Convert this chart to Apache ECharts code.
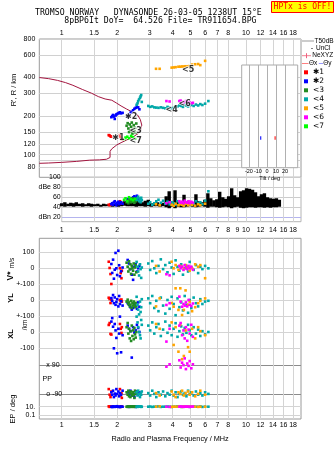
<!DOCTYPE html>
<html>
<head>
<meta charset="utf-8">
<script src="https://cdn.jsdelivr.net/npm/echarts@6/dist/echarts.min.js"></script>
<style>
html,body{margin:0;padding:0;background:#fff;}
#c{width:335px;height:451px;}
</style>
</head>
<body>
<div id="c"></div>
<script>
// ---- frequency axis ticks (MHz) ----
const freqTicks = [1, 1.5, 2, 3, 4, 5, 6, 7, 8, 10, 12, 14, 16, 18];
const freqTicksMid = [1, 1.5, 2, 3, 4, 5, 6, 7, 8, 9, 10, 12, 14, 16, 18];
const rangeTicks = [80, 90, 100, 120, 150, 200, 300, 400, 600, 800];
const dbTicks = [20, 40, 60, 80, 100];
const tiltTicks = [-20, -10, 0, 10, 20];

// ---- true-height profile (plasma frequency MHz, height km) ----
const profileFreq = [0.756,0.85,0.95,1.05,1.15,1.3,1.45,1.58,1.72,1.87,1.99,2.1,2.25,2.42,2.58,2.67,2.72,2.68,2.6,2.45,2.25,2.1,1.99,1.87,1.83,1.83,1.75,1.6,1.42,1.2,1.0,0.85,0.756];
const profileHeight = [400,392,380,365,348,322,302,284,272,266,252,240,227,215,204,188,170,156,146,138,130,124,119,111,106,95,92,91,90.5,88.5,87,86,85.5];

// ---- echo clusters: [f MHz, R' km, V* m/s, YL km, XL km, PP deg, EP deg, amplitude dB] ----
const echoes1 = [
  [1.80,142, 41, 14, 44, -60,12,45],
  [1.82,141,  2,  6, 56, -95, 9,44],
  [1.84,139,-36,-19,-12,-110,10,46],
  [1.86,138,-98,  0,-16, -75,11,45],
  [2.07,142,  0,  0, 50, -60,10,52],
  [2.09,137,-30, -5, 20,-100, 9,50],
  [2.11,134,-62,  3, -6, -85,12,48],
  [2.12,132,-15,-10, 30,-115,10,47]
];
const echoes2 = [
  [1.86,196, 27, 12, 65, -80,10,46],
  [1.88,200,-29, -5, 87, -95, 8,48],
  [1.90,204, 54, 31, 33, -70,12,45],
  [1.92,198,-65,-20,-102,-110,10,50],
  [1.94,190, -9, 16, 50, -88, 9,52],
  [1.96,202, 96,-30, 10,-100,11,47],
  [1.98,206,  0,-12,-37, -60,10,44],
  [2.00,208,-42,  5,-133,-90,13,49],
  [2.03,210,110,-40, 20, -75, 9,51],
  [2.05,212, 19, 25,-10,-105,10,46],
  [2.07,214,-50,-25, 96, -85, 8,48],
  [2.10,210,-19, -8,-127,-95,11,50],
  [2.14,212,  5,-35,-20, -70,10,47],
  [2.28,198, 52,-19, 40, -80,10,56],
  [2.32,206, 30,-30, 20, -95, 9,58],
  [2.36,212, -5,-45,  5, -70,11,55],
  [2.40,216,-40,-60,-160,-100,10,57],
  [2.44,222,-72,-50, 30, -85,12,60],
  [2.48,228, 10,-25, -3,-110,10,62],
  [2.52,232, 25,-38, 10, -90, 9,59],
  [2.56,236,-20,-55, 45, -75,10,63],
  [2.60,234,  0,-15, 25, -95,11,58],
  [2.64,226, 15,-42,  0, -80,10,56]
];
const echoes3 = [
  [2.25,168, 35,-10, 30, -80,10,50],
  [2.28,176, 10,  2, 56, -95, 9,53],
  [2.30,160,-20,-25,-10, -70,11,48],
  [2.32,150, 44,-15, 20,-105,10,55],
  [2.34,172, -5,-40,-40, -85,12,52],
  [2.36,155, 25,-30,  5,-110, 9,57],
  [2.38,165,-35, -5,-56, -75,10,50],
  [2.40,178, 15,-50, 40, -90,10,54],
  [2.42,146,  0,-20,-25,-100,11,58],
  [2.44,158,-15,-35, 10, -80, 9,51],
  [2.46,170, 30,-10,-45, -95,10,53],
  [2.48,152,-40,-28, 25,-115,10,49],
  [2.50,162,  5,-45,-15, -70,12,56],
  [2.52,148, 20,-18,-35, -90, 9,52],
  [2.54,175,-25,-38,  0, -85,10,54]
];
const echoes4 = [
  [2.55,245, 40, 20, 96, -80,10,55],
  [2.58,252, 10,-30, 60,-100, 9,58],
  [2.60,262,-20,-60, 30, -70,11,61],
  [2.63,270,-45,-90,  0, -90,10,52],
  [2.66,278, 25,-10,-20,-110,10,56],
  [2.68,285, -5,-75,-40, -85,12,50],
  [2.70,292,-60,-45, 75, -95, 9,59],
  [2.72,258,  5,  5, 45, -75,10,54],
  [2.95,240, 30, 10, 40, -85,10,47],
  [3.02,236,-10,-20, 10,-100,11,50],
  [3.10,238, 45, 25, 60, -70, 9,45],
  [3.18,234,  0,-50,-10, -90,10,48],
  [3.26,233,-30, -5, 30,-110,10,52],
  [3.35,232, 15,-70, 50, -80,12,55],
  [3.45,234, 56, 15,-25, -95, 9,49],
  [3.55,232, -5,-35, 15, -75,10,53],
  [3.65,230, 20,-85, 65,-105,10,47],
  [3.75,236,-25,  0, -5, -85,11,51],
  [3.85,233, 35,-55, 40, -95,10,46],
  [3.95,230,  5, 20,-20, -70, 9,50],
  [4.05,232,-35,-25, 20,-100,10,48],
  [4.15,236, 50,-95, 55, -80,10,45],
  [4.25,238, 10, 10,-30,-110,12,52],
  [4.35,242,-15,-45,  5, -90,10,49],
  [4.45,240, 25,-15, 35, -75, 9,47],
  [4.55,236,-40,-65,-15, -95,10,50],
  [4.65,244,  0, 25, 25, -85,11,46],
  [4.75,242, 15,-30, -5,-105,10,48],
  [4.85,238,-20,-80, 45, -70,10,51],
  [4.95,246, 40,  0, 10, -90, 9,45],
  [5.05,244,  5,-50,-20, -80,10,49],
  [5.20,240,-10, 15, 30,-100,11,47],
  [5.35,246, 20,-20,-10, -75,10,52],
  [5.50,242,-30,-40, 15, -95,10,48],
  [5.65,248, 10,  5,-25, -85,12,50],
  [5.80,244, -5,-25,  5,-100, 9,46],
  [6.00,250, 15,-10,-15, -80,10,53],
  [6.25,262,  0, -5,  0, -90,10,72]
];
const echoes5 = [
  [3.25,468, 15,-40, 50, -85,10,46],
  [3.40,468,-20, 10, 20,-100,12,44],
  [3.95,478, 41,-19, 60, -75, 9,45],
  [4.05,480,  0,-42,-81, -95,10,43],
  [4.15,482, 20, 73, 30,-110,10,47],
  [4.30,486,-10,-62,-123,-80,11,44],
  [4.40,486, 15, 73, 45, -90,10,46],
  [4.50,488, 10,-94,-170,-70, 9,45],
  [4.60,488, -5,-62,-150,-100,10,43],
  [4.70,490, 20, 60, 10, -85,12,47],
  [4.85,490,  5,-30,-95, -75,10,44],
  [4.95,492,-15,-10,-123,-95,10,46],
  [5.10,505,  0,-70, 20, -80,11,45],
  [5.30,508, 25,-45,-40,-105,10,43],
  [5.50,510, 10,-20, 30, -90, 9,46],
  [5.65,500, 20, -5,  5, -70,10,44],
  [6.00,540,-62, 10,-20, -95,10,47]
];
const echoes6 = [
  [3.70,262,-37,-31,-60, 80,10,48],
  [3.85,260,-44,-20, 20, 95, 9,50],
  [4.35,262, 15, 21, 40,120,10,52],
  [4.42,264,  0,-10, 56, 75,12,49],
  [4.50,258, 10,-42,-20,105,10,51],
  [4.58,256,-10,-25, 10, 90, 9,48],
  [4.65,260, 20,-35,-40,132,10,53],
  [4.72,262,  5,-15, 30, 65,11,50],
  [4.80,258, -5,-40,-55,100,10,49],
  [4.88,256, 15,  0, 15, 85,10,52],
  [4.95,254,  0,-30,-10,115, 9,48],
  [5.05,252, 10,-38, 45, 70,10,51],
  [5.15,254, -8,-22,-30, 95,11,49]
];
const echoes7 = [
  [2.18,132,null,null,null,null,null,55],
  [2.22,136,null,null,null,null,null,58],
  [2.27,138,null,null,null,null,null,52],
  [2.32,134,null,null,null,null,null,60],
  [2.38,140,null,null,null,null,null,56],
  [2.44,137,null,null,null,null,null,54],
  [2.50,133,null,null,null,null,null,57]
];
const clusterNames = ['\u27311', '\u27312', '<3', '<4', '<5', '<6', '<7'];
const clusterColors = ['#ff0000', '#0000ff', '#228b22', '#00a8a8', '#ffa500', '#ff00ff', '#00ff00'];
const clusterEchoes = [echoes1, echoes2, echoes3, echoes4, echoes5, echoes6, echoes7];

// ---- cluster tags in the range panel ----
const tagText = ['\u27311', '\u27312', '<3', '<7', '<4', '<6', '<5'];
const tagFreq = [2.03, 2.38, 2.52, 2.52, 3.95, 4.65, 4.85];
const tagHeight = [135, 197, 152, 128, 225, 250, 455];

// ---- tilt inset ----
const tiltDeg = [9, -7];
const tiltHeight = [135, 135];
const tiltColor = ['#ff0000', '#0000ff'];

// ---- receiver amplitude trace (T50dB): frequency, low dB, high dB ----
const ampFreq = [1.00,1.04,1.08,1.12,1.16,1.20,1.25,1.30,1.35,1.40,
  1.45,1.51,1.57,1.63,1.69,1.75,1.82,1.89,1.96,2.03,
  2.11,2.19,2.27,2.36,2.45,2.54,2.64,2.74,2.84,2.95,
  3.06,3.18,3.30,3.42,3.55,3.69,3.83,3.97,4.12,4.28,
  4.44,4.61,4.78,4.96,5.15,5.35,5.55,5.76,5.98,6.21,
  6.44,6.69,6.94,7.20,7.48,7.76,8.05,8.36,8.68,9.01,
  9.35,9.70,10.07,10.45,10.85,11.26,11.69,12.13,12.59,13.07,
  13.57,14.08,14.62,15.17];
const ampLow = [42,41,42,42,41,42,42,41,42,42,
  41,42,42,41,42,42,42,41,42,41,
  42,43,42,42,42,41,42,42,41,42,
  41,42,42,41,42,40,38,41,38,41,
  40,40,41,42,41,40,41,42,41,39,
  41,41,40,39,40,41,40,38,40,41,
  39,38,39,40,40,39,40,40,39,40,
  39,40,40,41];
const ampHigh = [48,50,47,49,48,50,47,48,46,48,
  47,46,47,45,47,46,44,45,47,48,
  50,52,55,53,55,56,52,50,53,55,
  48,46,50,47,49,62,72,48,74,52,
  50,65,49,48,46,66,52,50,55,68,
  58,54,56,71,60,57,62,78,64,60,
  72,74,78,77,75,70,62,66,68,60,
  58,57,58,55];

const SANS = 'Liberation Sans';
const MONO = 'DejaVu Sans Mono';
const F_MIN = 0.756, F_MAX = 19.88;
const GRID_LINE = '#d4d4d4';
const TICK_FONT = 7;

function labelStyle(ticks, margin, extra) {
  return Object.assign({
    show: true, customValues: ticks, fontSize: TICK_FONT, color: '#000',
    fontFamily: SANS, margin: margin, hideOverlap: false,
    showMinLabel: true, showMaxLabel: true
  }, extra || {});
}

function freqAxis(gridIndex, ticks, margin, extra) {
  return Object.assign({
    type: 'log', logBase: 10, gridIndex: gridIndex, min: F_MIN, max: F_MAX,
    axisLine: {show: false},
    axisTick: {show: false, customValues: ticks},
    axisLabel: labelStyle(ticks, margin),
    splitLine: {show: true, lineStyle: {color: GRID_LINE, width: 1}}
  }, extra || {});
}

function valueAxis(gridIndex, min, max, ticks, fmt, extra) {
  return Object.assign({
    type: 'value', gridIndex: gridIndex, min: min, max: max, position: 'left',
    axisLine: {show: false},
    axisTick: {show: false, customValues: ticks},
    axisLabel: labelStyle(ticks, 5, {formatter: fmt}),
    splitLine: {show: true, lineStyle: {color: GRID_LINE, width: 1}}
  }, extra || {});
}

const dbFormat = function (v) { return v === 80 ? 'dBe 80' : (v === 20 ? 'dBn 20' : String(v)); };
const ppFormat = function (v) { return v > 0 ? 'x 90' : 'o -90'; };

const xAxis = [
  freqAxis(0, freqTicks, 2, {position: 'top'}),
  freqAxis(1, freqTicksMid, 5, {min: 1}),
  freqAxis(2, freqTicks, 3, {
    name: 'Radio and Plasma Frequency / MHz', nameLocation: 'middle', nameGap: 16,
    nameTextStyle: {fontSize: 7.3, color: '#000', fontFamily: SANS}
  }),
  freqAxis(3, freqTicks, 3, {axisLabel: {show: false}, splitLine: {show: false}}),
  {
    type: 'value', gridIndex: 4, min: -28, max: 34, z: 6,
    axisLine: {show: false},
    axisTick: {show: false, customValues: tiltTicks},
    axisLabel: labelStyle(tiltTicks, 1, {fontSize: 5.5}),
    splitLine: {show: true, lineStyle: {color: '#b0b0b0', width: 1}},
    name: 'Tilt / deg', nameLocation: 'middle', nameGap: 7,
    nameTextStyle: {fontSize: 5.5, color: '#000', fontFamily: SANS}
  }
];

const yAxis = [
  // 0: virtual range R'
  {
    type: 'log', logBase: 10, gridIndex: 0, min: 66.5, max: 800,
    axisLine: {show: false},
    axisTick: {show: false, customValues: rangeTicks},
    axisLabel: labelStyle(rangeTicks, 4),
    splitLine: {show: true, lineStyle: {color: '#d0d0d0', width: 1}}
  },
  // 1: amplitude
  valueAxis(1, 11, 100, dbTicks, dbFormat, {
    axisLabel: labelStyle(dbTicks, 1, {formatter: dbFormat}),
    splitLine: {show: true, lineStyle: {color: ['#b4b4ee', '#cccccc', '#cccccc', '#cccccc', '#cccccc'], width: 1}}
  }),
  // 2: V*
  valueAxis(2, -941.9, 187.5, [100, 0, -100], function (v) { return v === -100 ? '+-100' : String(v); }),
  // 3: YL
  valueAxis(2, -743.8, 385.6, [0, -100], function (v) { return v === -100 ? '+-100' : String(v); }),
  // 4: XL
  valueAxis(2, -543.8, 585.6, [0, -100], function (v) { return String(v); }),
  // 5: PP
  valueAxis(2, -246.9, 882.5, [90, -90], ppFormat, {
    axisLabel: labelStyle([90, -90], 7, {inside: true, formatter: ppFormat}),
    splitLine: {show: true, lineStyle: {color: '#8c8c8c', width: 1}}
  }),
  // 6: EP
  {
    type: 'log', logBase: 10, gridIndex: 3, min: 0.01086, max: 1247,
    axisLine: {show: false},
    axisTick: {show: false, customValues: [10, 0.1]},
    axisLabel: labelStyle([10, 0.1], 4, {formatter: function (v) { return v > 1 ? '10.' : '0.1'; }}),
    splitLine: {show: true, lineStyle: {color: GRID_LINE, width: 1}}
  },
  // 7: tilt inset height
  {type: 'log', logBase: 10, gridIndex: 4, min: 79, max: 501, show: false, splitLine: {show: false}}
];

const series = [];

// height profile
series.push({
  type: 'line', xAxisIndex: 0, yAxisIndex: 0, silent: true, z: 2,
  symbol: 'none', showSymbol: false,
  lineStyle: {color: '#a3153f', width: 1},
  data: profileFreq.map(function (f, i) { return [f, profileHeight[i]]; })
});

// amplitude trace, one bar per frequency sample
series.push({
  type: 'custom', xAxisIndex: 1, yAxisIndex: 1, silent: true, z: 2,
  encode: {x: 0, y: [1, 2]},
  data: ampFreq.map(function (f, i) { return [f, ampLow[i], ampHigh[i]]; }),
  renderItem: function (params, api) {
    const f = api.value(0);
    const lo = api.coord([f, api.value(1)]);
    const hi = api.coord([f, api.value(2)]);
    return {type: 'rect', shape: {x: lo[0] - 1.7, y: hi[1], width: 3.4, height: lo[1] - hi[1]}, style: {fill: '#000'}};
  }
});

// echo clusters in every panel
const panels = [
  {col: 1, x: 0, y: 0},
  {col: 7, x: 1, y: 1},
  {col: 2, x: 2, y: 2},
  {col: 3, x: 2, y: 3},
  {col: 4, x: 2, y: 4},
  {col: 5, x: 2, y: 5},
  {col: 6, x: 3, y: 6}
];
clusterEchoes.forEach(function (list, k) {
  panels.forEach(function (p) {
    series.push({
      type: 'scatter', name: clusterNames[k], xAxisIndex: p.x, yAxisIndex: p.y,
      symbol: 'rect', symbolSize: 2.6, silent: true, z: 3,
      itemStyle: {color: clusterColors[k], opacity: 1},
      data: list.filter(function (e) { return e[p.col] != null; })
                .map(function (e) { return [e[0], e[p.col]]; })
    });
  });
});

// cluster tags
series.push({
  type: 'scatter', xAxisIndex: 0, yAxisIndex: 0, silent: true, z: 4,
  symbolSize: 1, itemStyle: {color: 'rgba(0,0,0,0)'},
  label: {show: true, position: 'inside', formatter: '{b}', color: '#000', fontSize: 8,
    fontFamily: 'DejaVu Sans', fontWeight: 'bold', textBorderColor: '#fff', textBorderWidth: 1.5},
  data: tagFreq.map(function (f, i) { return {name: tagText[i], value: [f, tagHeight[i]]}; })
});

// tilt markers
series.push({
  type: 'scatter', xAxisIndex: 4, yAxisIndex: 7, silent: true, z: 7,
  symbol: 'rect', symbolSize: [1.3, 3.5],
  data: tiltDeg.map(function (t, i) { return {value: [t, tiltHeight[i]], itemStyle: {color: tiltColor[i]}}; })
});

function txt(text, x, y, opts) {
  opts = opts || {};
  return {
    type: 'text', x: x, y: y, z: 10, rotation: opts.rot || 0, silent: true,
    style: {
      text: text, fill: opts.color || '#000',
      font: opts.font || ('7px "' + SANS + '"'),
      align: opts.align || 'left', verticalAlign: 'middle',
      textAlign: opts.align || 'left', textVerticalAlign: 'middle'
    }
  };
}
function seg(x1, y1, x2, y2, color) {
  return {type: 'line', z: 10, silent: true, shape: {x1: x1, y1: y1, x2: x2, y2: y2}, style: {stroke: color, lineWidth: 1}};
}

const ROT = Math.PI / 2;
const KEY_FONT = '6.5px "' + SANS + '"';
const graphic = [
  // header
  txt('TROMSO NORWAY   DYNASONDE 26-03-05 1238UT 15\u00B0E', 35, 12.5, {font: '8.2px "' + MONO + '"'}),
  txt('8pBP6It DoY=  64.526 File= TR911654.BPG', 64.3, 20.8, {font: '8.2px "' + MONO + '"'}),
  {type: 'rect', z: 10, silent: true, shape: {x: 271.5, y: 1.5, width: 62, height: 11},
    style: {fill: '#ffff00', stroke: '#ff0000', lineWidth: 1}},
  txt('HPTx is OFF!', 302.5, 7.3, {font: '8px "' + MONO + '"', color: '#ff0000', align: 'center'}),
  // key for the trace styles
  seg(302, 41, 314, 41, '#999999'),
  txt('T50dB', 314.5, 41, {font: KEY_FONT}),
  {type: 'rect', z: 10, silent: true, shape: {x: 311.5, y: 48, width: 1, height: 1}, style: {fill: '#000'}},
  txt('UnCl', 316, 48.5, {font: KEY_FONT}),
  seg(302, 55.7, 311, 55.7, '#f08090'),
  seg(306.5, 53.2, 306.5, 58.2, '#f06080'),
  txt('NeXYZ', 312.3, 55.7, {font: KEY_FONT}),
  seg(302, 63.5, 308.5, 63.5, '#ff8080'),
  txt('\u0398x', 309, 63.5, {font: KEY_FONT}),
  seg(318.8, 63.5, 323, 63.5, '#9999ff'),
  txt('\u0398y', 323.3, 63.5, {font: KEY_FONT}),
  // tilt inset frame
  {type: 'rect', z: 5, silent: true, shape: {x: 241.7, y: 65, width: 56, height: 102.7},
    style: {fill: '#ffffff', stroke: '#aaaaaa', lineWidth: 1}},
  // axis titles
  txt("R', R / km", 14, 90, {rot: ROT, align: 'center', font: '7.5px "' + SANS + '"'}),
  txt('m/s', 12, 263, {rot: ROT, align: 'center', font: '6.5px "' + SANS + '"'}),
  txt('V*', 11, 276, {rot: ROT, align: 'center', font: 'bold 8.5px "' + SANS + '"'}),
  txt('YL', 11, 298, {rot: ROT, align: 'center', font: 'bold 7.5px "' + SANS + '"'}),
  txt('/km', 25, 325, {rot: ROT, align: 'center', font: '6.5px "' + SANS + '"'}),
  txt('XL', 11, 334, {rot: ROT, align: 'center', font: 'bold 7.5px "' + SANS + '"'}),
  txt('PP', 42.5, 379),
  txt('EP / deg', 13, 409, {rot: ROT, align: 'center', font: '7.5px "' + SANS + '"'})
];

const chart = echarts.init(document.getElementById('c'), null, {renderer: 'canvas', width: 335, height: 451});
chart.setOption({
  animation: false,
  backgroundColor: '#ffffff',
  textStyle: {fontFamily: SANS},
  grid: [
    {left: 39.3, right: 34, top: 39, height: 138.3, show: true, borderColor: '#9a9a9a', borderWidth: 1, outerBoundsMode: 'none', containLabel: false},
    {left: 61.7, right: 34, top: 177.3, height: 44.4, show: true, borderColor: '#b4b4b4', borderWidth: 1, outerBoundsMode: 'none', containLabel: false},
    {left: 39.3, right: 34, top: 238.3, height: 180.7, show: true, borderColor: '#9a9a9a', borderWidth: 1, outerBoundsMode: 'none', containLabel: false},
    {left: 39.3, right: 34, top: 398, height: 21, show: false, outerBoundsMode: 'none', containLabel: false},
    {left: 241.7, top: 65, width: 56, height: 102.7, show: false, outerBoundsMode: 'none', containLabel: false}
  ],
  xAxis: xAxis,
  yAxis: yAxis,
  legend: {
    data: clusterNames, orient: 'vertical', left: 304, top: 67.8, padding: 0,
    itemWidth: 4, itemHeight: 4, itemGap: 0, icon: 'rect', selectedMode: false,
    textStyle: {fontSize: 7.5, lineHeight: 9, color: '#000', fontFamily: 'DejaVu Sans'}
  },
  graphic: graphic,
  series: series
});
</script>
</body>
</html>
